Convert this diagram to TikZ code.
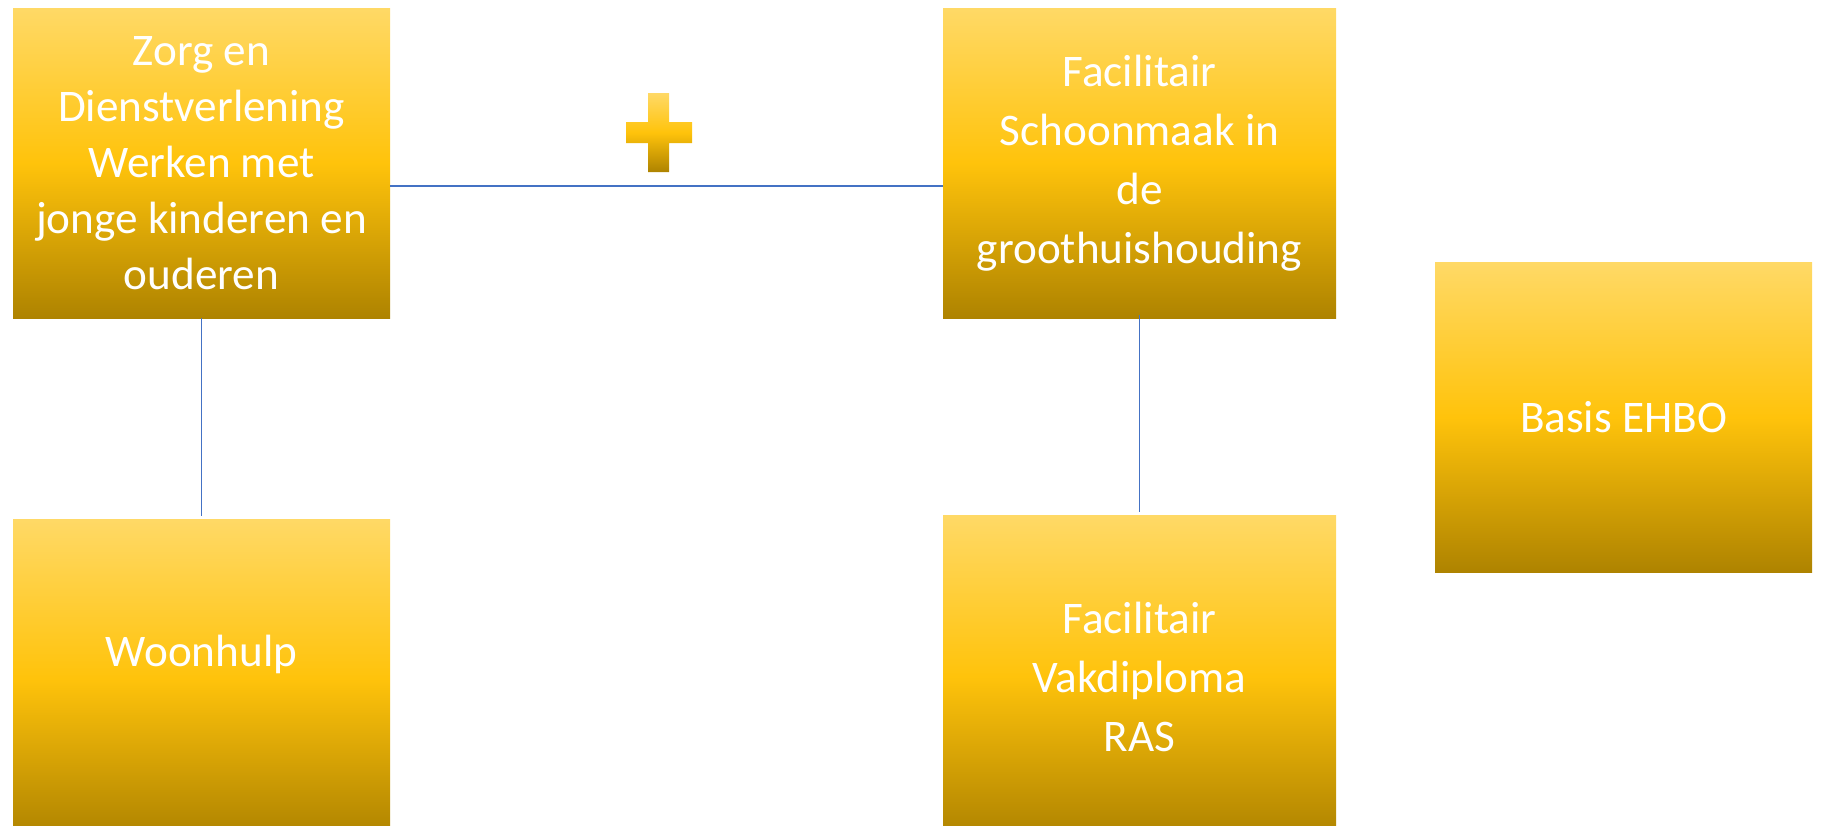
\documentclass[tikz,border=0pt]{standalone}
\usepackage{fontspec}
\setmainfont{Carlito}
\usepackage{tikz}
\usetikzlibrary{calc}
\definecolor{goldtop}{HTML}{FFD966}
\definecolor{goldmid}{HTML}{FFC30B}
\definecolor{goldbot}{HTML}{AE8300}
\definecolor{linkblue}{HTML}{4472C4}
\pgfdeclareverticalshading{gold}{100bp}{color(0bp)=(goldbot); color(25bp)=(goldbot); color(50bp)=(goldmid); color(75bp)=(goldtop); color(100bp)=(goldtop)}

\begin{document}
\begin{tikzpicture}[x=0.5pt,y=-0.5pt,
  course/.style={rectangle,shading=gold,text=white,inner sep=0pt,align=center,
    minimum width=188.5pt,minimum height=155pt,
    font=\fontsize{22.6pt}{28pt}\selectfont},
  widecourse/.style={course,minimum width=196.5pt,font=\fontsize{22.6pt}{29.5pt}\selectfont},
  link/.style={draw=linkblue,line width=0.75pt}]
                      \clip (0,0) rectangle (1823,825);
                      \node[course](zorg)at(201.5,163){Zorg en\\Dienstverlening\\Werken met\\jonge kinderen en\\ouderen};
                      \node[widecourse](facil)at(1139.5,163){Facilitair\\Schoonmaak in\\de\\groothuishouding};
                      \node[course](ehbo)at(1623.5,417.5){Basis EHBO};
                      \node[course,minimum height=159.5pt](woon)at(201.5,678.5){Woonhulp\\\phantom{W}};
                      \node[widecourse,minimum height=161.5pt](vak)at(1139.5,676.5){Facilitair\\Vakdiploma\\RAS};
                      % plus sign between the two top courses
                      \shade[shading=gold] (648,93) -- (669,93) -- (669,122) -- (692,122) -- (692,143) -- (669,143)
                        -- (669,172) -- (648,172) -- (648,143) -- (626,143) -- (626,122) -- (648,122) -- cycle;
                      \draw[link] ([yshift=-11.5pt]zorg.east)--([yshift=-11.5pt]facil.west);
                      \draw[link] (zorg.south)--([yshift=1.5pt]woon.north);
                      \draw[link] ([yshift=1.5pt]facil.south)--([yshift=1.5pt]vak.north);
                  \end{tikzpicture}
\end{document}
